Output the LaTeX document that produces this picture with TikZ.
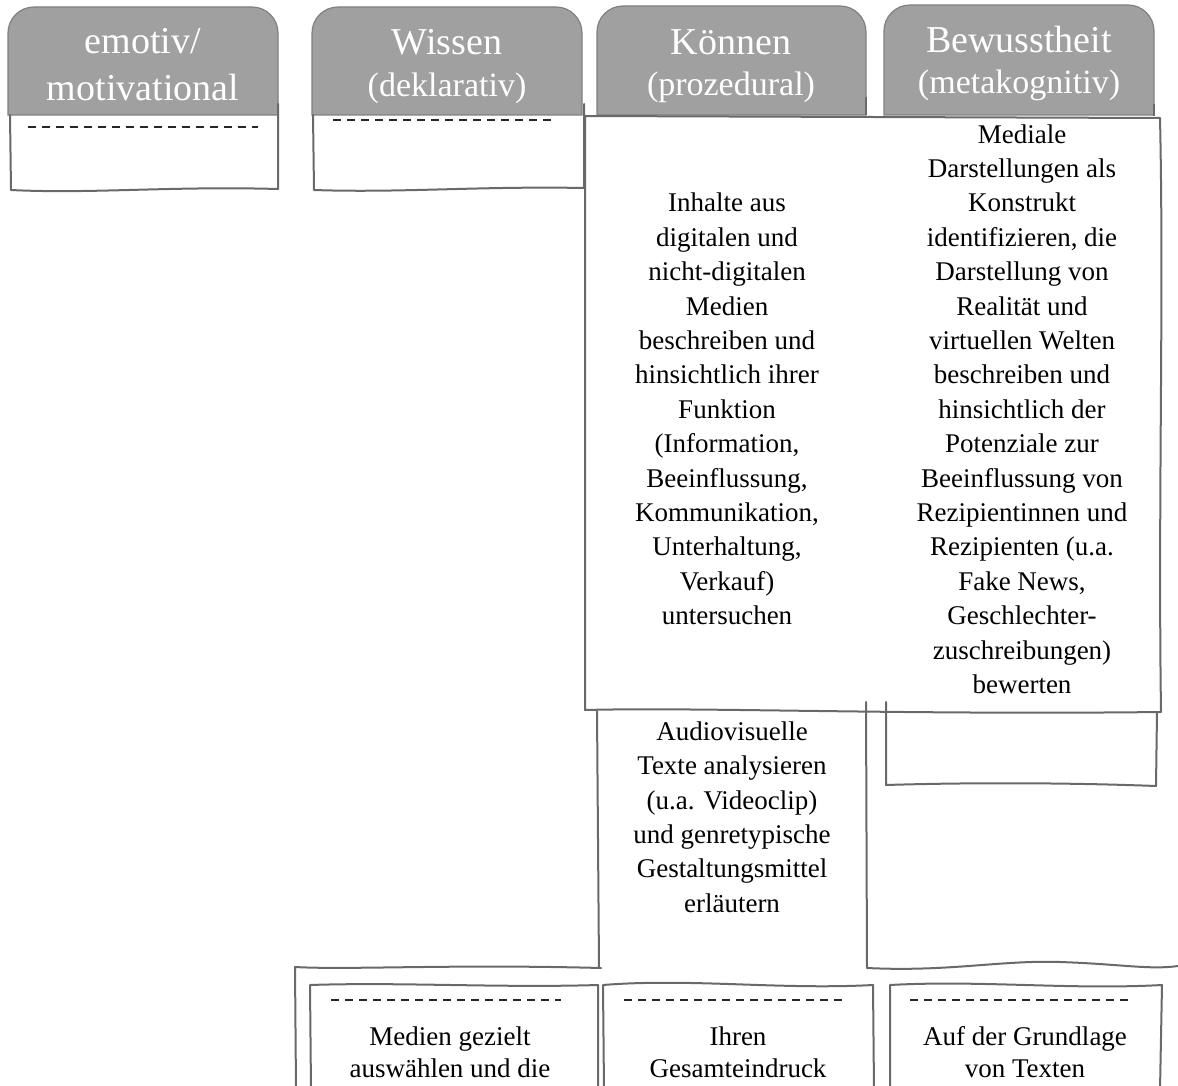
\documentclass[tikz,border=0pt]{standalone}
\usepackage{fontspec}
\setmainfont{Liberation Serif}
\definecolor{tabgray}{RGB}{160,160,160}
\definecolor{tabedge}{RGB}{128,128,128}
\definecolor{edgegray}{RGB}{105,105,105}
\begin{document}
\begin{tikzpicture}[x=1pt,y=-1pt,
  sketch/.style={draw=edgegray, line width=2pt, line join=round, line cap=round},
  tab/.style={fill=tabgray, draw=tabedge, line width=1.2pt},
  rule/.style={draw=black!85, line width=1.2pt, dash pattern=on 8pt off 6pt},
  headtxt/.style={text=white, font=\fontsize{38}{46}\selectfont, inner sep=0pt, anchor=base},
  subtxt/.style={text=white, font=\fontsize{34}{40}\selectfont, inner sep=0pt, anchor=base},
  bodytxt/.style={align=center, font=\fontsize{27}{34.4}\selectfont, inner sep=0pt},
  foottxt/.style={align=center, font=\fontsize{27}{32}\selectfont, inner sep=0pt},
]
\useasboundingbox[fill=white] (0,0) rectangle (1178,1086);

% column header tabs with rounded top corners
\path[tab] (8,115) {[rounded corners=26pt] -- (8,7) -- (278,7)} -- (278,115) -- cycle;
\path[tab] (312,115) {[rounded corners=26pt] -- (312,7) -- (582,7)} -- (582,115) -- cycle;
\path[tab] (597,115) {[rounded corners=26pt] -- (597,6) -- (866,6)} -- (866,115) -- cycle;
\path[tab] (884,115) {[rounded corners=26pt] -- (884,5) -- (1154,5)} -- (1154,115) -- cycle;
\draw[edgegray, line width=1.5pt] (866,97) -- (866,115);
\draw[edgegray, line width=1.5pt] (1154,104) -- (1154,116);

% header texts
\node[headtxt] (h1a) at (143,54) {emotiv/};
\node[headtxt] (h1b) at (143,101) {motivational};
\node[headtxt] (h2a) at (447,55) {Wissen};
\node[subtxt]  (h2b) at (447,97) {(deklarativ)};
\node[headtxt] (h3a) at (731,55) {Können};
\node[subtxt]  (h3b) at (731,96) {(prozedural)};
\node[headtxt] (h4a) at (1019,53) {Bewusstheit};
\node[subtxt]  (h4b) at (1019,94) {(metakognitiv)};

% empty boxes under the first two tabs
\draw[sketch] (10,115) -- (11,190) .. controls (90,194) and (170,186) .. (278,189) -- (278,104);
\draw[rule] (28,127) -- (258,127);
\draw[sketch] (313,115) -- (314,190) .. controls (400,193) and (480,186) .. (584,188) -- (584,104);
\draw[rule] (333,120) -- (556,120);

% wide box spanning the third and fourth column
\draw[sketch] (585,116) -- (1160,118) .. controls (1164,300) and (1158,500) .. (1161,712)
  .. controls (900,715) and (700,707) .. (585,710) -- cycle;

% lower boxes of the third and fourth column
\draw[sketch] (597,711) -- (599,968);
\draw[sketch] (866,702) -- (867,968) .. controls (950,972) and (1000,960) .. (1060,962)
  .. controls (1120,964) and (1150,970) .. (1178,966);
\draw[sketch] (886,702) -- (886,785) .. controls (950,783) and (1050,782) .. (1156,786) -- (1157,712);

% bottom row: outer frame and three boxes
\draw[sketch] (601,968) .. controls (450,964) and (350,970) .. (295,967) -- (296,1090);
\draw[sketch] (311,1090) -- (310,985) .. controls (400,982) and (500,988) .. (598,985) -- (598,1090);
\draw[sketch] (604,1090) -- (603,985) .. controls (690,978) and (780,990) .. (873,985) -- (874,1090);
\draw[sketch] (890,1090) -- (890,985) .. controls (980,980) and (1070,990) .. (1162,985) -- (1160,1090);
\draw[rule] (331,1000) -- (561,1000);
\draw[rule] (624,1000) -- (847,1000);
\draw[rule] (910,1000) -- (1133,1000);

% texts
\node[bodytxt] (inhalte) at (727,409) {Inhalte aus\\digitalen und\\nicht-digitalen\\Medien\\beschreiben und\\hinsichtlich ihrer\\Funktion\\(Information,\\Beeinflussung,\\Kommunikation,\\Unterhaltung,\\Verkauf)\\untersuchen};
\node[bodytxt] (mediale) at (1022,409) {Mediale\\Darstellungen als\\Konstrukt\\identifizieren, die\\Darstellung von\\Realität und\\virtuellen Welten\\beschreiben und\\hinsichtlich der\\Potenziale zur\\Beeinflussung von\\Rezipientinnen und\\Rezipienten (u.a.\\Fake News,\\Geschlechter-\\zuschreibungen)\\bewerten};
\node[bodytxt] (audio) at (732,817) {Audiovisuelle\\Texte analysieren\\(u.a. Videoclip)\\und genretypische\\Gestaltungsmittel\\erläutern};
\node[foottxt] (medien) at (450,1052) {Medien gezielt\\auswählen und die};
\node[foottxt] (ihren) at (738,1052) {Ihren\\Gesamteindruck};
\node[foottxt] (auf) at (1025,1052) {Auf der Grundlage\\von Texten};
\end{tikzpicture}
\end{document}
